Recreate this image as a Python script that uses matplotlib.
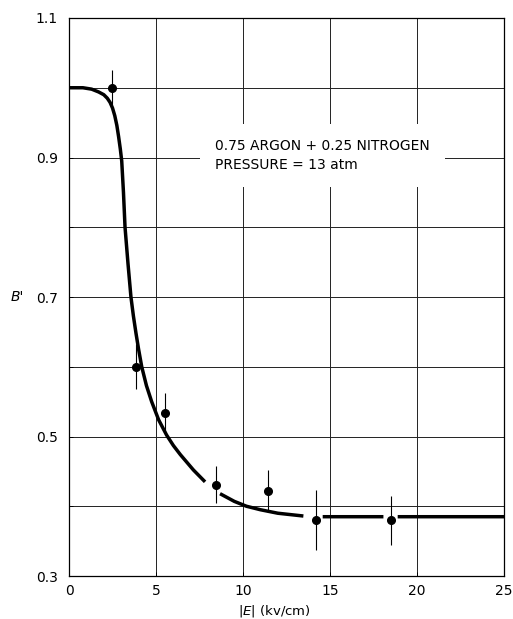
import numpy as np
import matplotlib
matplotlib.use("Agg")
import matplotlib.pyplot as plt

# measured points
x_pts = [2.49, 3.85, 5.5, 8.43, 11.42, 14.18, 18.49]
y_pts = [1.00, 0.600, 0.534, 0.431, 0.422, 0.380, 0.380]
y_err = [0.025, 0.032, 0.028, 0.026, 0.030, 0.043, 0.035]

# drawn curve (nan = gap in the line around markers)
curve_x = [0, 0.8, 1.3, 1.7, 2.0, 2.2, 2.36, 2.5, 2.63, 2.75, 2.85, 2.95, 3.03, 3.13, 3.22,
           3.39, 3.56, 3.7, 3.85, 4.0, 4.18, 4.45, 4.75, 5.15, 5.61, 6.0, 6.4, 7.15, 7.82, np.nan,
           8.68, 9.5, 10.2, 11.0, 12.0, 13.47, np.nan,
           14.58, 18.07, np.nan, 18.89, 25]
curve_y = [1.0, 1.0, 0.998, 0.994, 0.99, 0.985, 0.979, 0.971, 0.96, 0.946, 0.93, 0.912, 0.895, 0.85, 0.80,
           0.748, 0.70, 0.673, 0.648, 0.625, 0.60, 0.573, 0.55, 0.524, 0.502, 0.487, 0.474, 0.452, 0.435, np.nan,
           0.418, 0.407, 0.40, 0.395, 0.39, 0.386, np.nan,
           0.385, 0.385, np.nan, 0.385, 0.385]

x_ticks = [0, 5, 10, 15, 20, 25]
y_ticks = [0.3, 0.4, 0.5, 0.6, 0.7, 0.8, 0.9, 1.0, 1.1]
y_tick_labels = ["0.3", "", "0.5", "", "0.7", "", "0.9", "", "1.1"]

plt.rcParams["font.family"] = "DejaVu Sans"
fig = plt.figure(figsize=(5.13, 6.19), dpi=100)
ax = fig.add_axes([69 / 513, 43 / 619, 435 / 513, 558 / 619])

ax.plot(curve_x, curve_y, color="black", lw=2.5, solid_capstyle="butt",
        solid_joinstyle="round", zorder=3)
ax.errorbar(x_pts, y_pts, yerr=y_err, fmt="o", color="black", ms=5.5,
            elinewidth=0.8, capsize=0, zorder=4)

ax.set_xlim(0, 25); ax.set_ylim(0.3, 1.1)
ax.set_xticks(x_ticks)
ax.set_yticks(y_ticks)
ax.set_yticklabels(y_tick_labels)
ax.tick_params(direction="in", length=3, width=0.7, labelsize=10, pad=8)
ax.tick_params(axis="x", pad=6)
ax.grid(True, color="#222222", lw=0.7)
ax.set_axisbelow(True)
for s in ax.spines.values():
    s.set_linewidth(0.9)

ax.text(8.39, 0.903, "0.75 ARGON + 0.25 NITROGEN\nPRESSURE = 13 atm", fontsize=10,
        ha="left", va="center", linespacing=1.45, zorder=2,
        bbox=dict(facecolor="white", edgecolor="none", boxstyle="square,pad=1.1"))

fig.text(17 / 513, 1 - 297 / 619, "B'", style="italic", fontsize=10, ha="center", va="center")
fig.text(274 / 513, 1 - 611 / 619, r"$|E|$ (kv/cm)", fontsize=9.5, ha="center", va="center")

fig.savefig("out.png", dpi=100)
